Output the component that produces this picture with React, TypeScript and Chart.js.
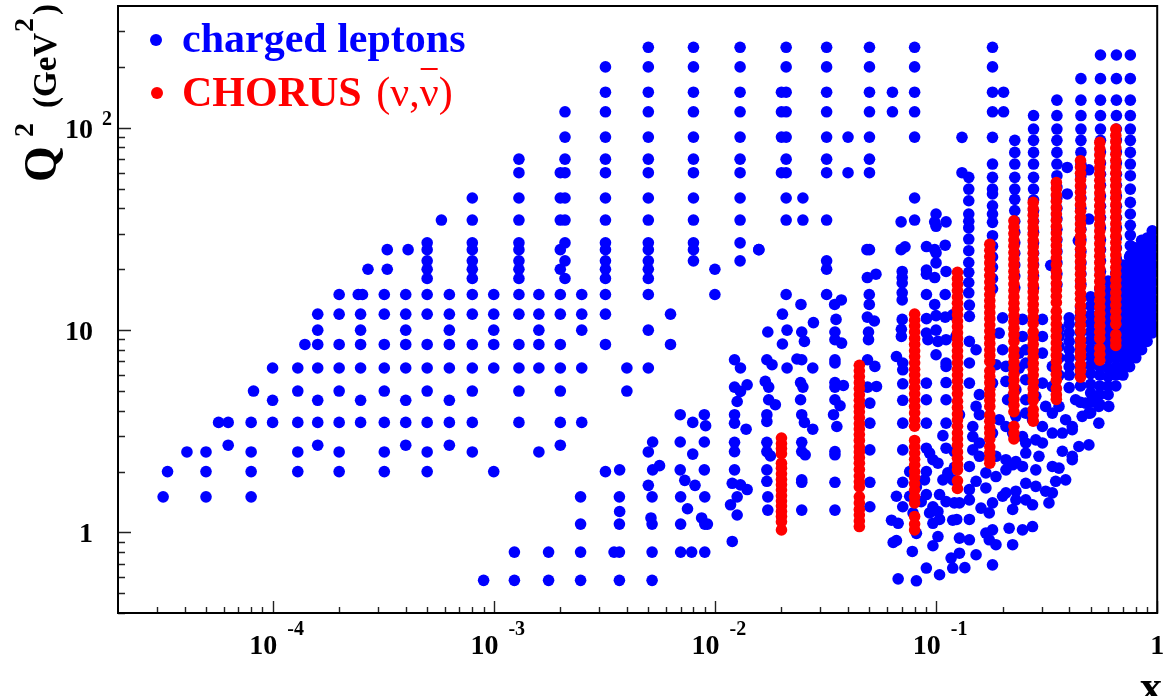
import { useEffect, useRef } from "react";
import { Chart, registerables } from "chart.js";

Chart.register(...registerables);

// ---------- axis ranges & tick labels ----------
const X_MIN = 2e-5;
const X_MAX = 1;
const Y_MIN = 0.4;
const Y_MAX = 400;
const xTickValues = [1e-4, 1e-3, 1e-2, 1e-1, 1];
const xTickBase = ["10", "10", "10", "10", "1"];
const xTickSup = ["-4", "-3", "-2", "-1", ""];
const yTickValues = [1, 10, 100];
const yTickBase = ["1", "10", "10"];
const yTickSup = ["", "", "2"];
const seriesNames = ["charged leptons", "CHORUS"];

// ---------- charged leptons: rows of constant Q2 (low-x grid) ----------
const blueRowQ2 = [250, 200, 150, 120, 90, 70, 60, 45, 35, 27, 25, 22, 20, 18, 15, 12, 10, 8.5, 6.5, 5, 4.5, 3.5, 2.7, 2.5, 2, 1.5, 1.1, 0.8, 0.58];
const blueRowX = [
  [5e-3, 8e-3, 1.3e-2, 2.1e-2, 3.2e-2, 5e-2, 8e-2],
  [3.2e-3, 5e-3, 8e-3, 1.3e-2, 2.1e-2, 3.2e-2, 5e-2, 8e-2],
  [3.2e-3, 5e-3, 8e-3, 1.3e-2, 2.0e-2, 2.1e-2, 3.2e-2, 5e-2, 6.35e-2, 8e-2],
  [2.1e-3, 3.2e-3, 5e-3, 8e-3, 1.3e-2, 2.0e-2, 2.1e-2, 3.2e-2, 5e-2, 6.35e-2, 8e-2],
  [2.1e-3, 3.2e-3, 5e-3, 8e-3, 1.3e-2, 2.0e-2, 2.1e-2, 3.2e-2, 4e-2, 5e-2, 8e-2],
  [1.3e-3, 2.1e-3, 3.2e-3, 5e-3, 8e-3, 1.3e-2, 2.1e-2, 3.2e-2, 5e-2],
  [1.3e-3, 2.0e-3, 2.1e-3, 3.2e-3, 5e-3, 8e-3, 1.3e-2, 2.0e-2, 2.1e-2, 3.2e-2, 4e-2, 5e-2],
  [8e-4, 1.3e-3, 2.0e-3, 2.1e-3, 3.2e-3, 5e-3, 8e-3, 1.3e-2, 2.1e-2, 2.5e-2, 8e-2],
  [5.8e-4, 8e-4, 1.3e-3, 2.0e-3, 2.1e-3, 3.2e-3, 5e-3, 8e-3, 1.3e-2, 2.1e-2, 2.5e-2, 3.2e-2, 8e-2],
  [5e-4, 8e-4, 1.3e-3, 2.1e-3, 3.2e-3, 5e-3, 8e-3, 1.3e-2],
  [3.3e-4, 4.1e-4, 5e-4, 8e-4, 1.3e-3, 2.0e-3, 3.2e-3, 5e-3, 8e-3, 1.58e-2],
  [5e-4, 8e-4, 1.3e-3, 2.1e-3, 3.2e-3, 5e-3, 8e-3, 1.3e-2, 3.2e-2],
  [2.7e-4, 3.3e-4, 5e-4, 8e-4, 1.3e-3, 2.0e-3, 3.2e-3, 5e-3, 1e-2, 3.2e-2],
  [5e-4, 8e-4, 1.3e-3, 2.1e-3, 3.2e-3, 5e-3],
  [2.0e-4, 2.44e-4, 2.55e-4, 3.2e-4, 4e-4, 5e-4, 6.3e-4, 8e-4, 1e-3, 1.3e-3, 1.6e-3, 2.0e-3, 2.5e-3, 3.2e-3, 5e-3, 1e-2, 2.1e-2, 3.2e-2],
  [1.6e-4, 2.0e-4, 2.5e-4, 3.2e-4, 4e-4, 5e-4, 6.3e-4, 8e-4, 1e-3, 1.3e-3, 1.6e-3, 2.0e-3, 2.5e-3, 3.2e-3, 6.3e-3],
  [1.6e-4, 2.5e-4, 4e-4, 6.3e-4, 1e-3, 1.6e-3, 2.5e-3, 5e-3],
  [1.4e-4, 1.6e-4, 2.0e-4, 2.5e-4, 3.2e-4, 4e-4, 5e-4, 6.3e-4, 8e-4, 1e-3, 1.3e-3, 1.6e-3, 2.0e-3, 3.2e-3, 6.3e-3],
  [1e-4, 1.3e-4, 1.6e-4, 2.0e-4, 2.5e-4, 3.2e-4, 4e-4, 5e-4, 6.3e-4, 8e-4, 1e-3, 1.3e-3, 1.6e-3, 2.0e-3, 2.5e-3, 4e-3, 5e-3],
  [8.2e-5, 1.3e-4, 2.0e-4, 3.2e-4, 5e-4, 8e-4, 1.3e-3, 2.0e-3, 4e-3],
  [1e-4, 1.6e-4, 2.5e-4, 4e-4, 6.3e-4],
  [5.7e-5, 6.3e-5, 8e-5, 1e-4, 1.3e-4, 1.6e-4, 2.0e-4, 2.5e-4, 3.2e-4, 4e-4, 5e-4, 6.3e-4, 8e-4, 1.3e-3, 2.0e-3, 2.5e-3],
  [6.3e-5, 1.6e-4, 4e-4, 6.3e-4, 2.0e-3],
  [4.1e-5, 5e-5, 8e-5, 1.3e-4, 2.0e-4, 3.2e-4, 5e-4, 8e-4, 1.6e-3],
  [3.35e-5, 5e-5, 8e-5, 1.3e-4, 2.0e-4, 3.2e-4, 5e-4, 1e-3, 3.2e-3],
  [3.2e-5, 5e-5, 8e-5, 2.47e-3, 3.7e-3, 5.2e-3, 7.0e-3, 9.0e-3],
  [2.47e-3, 3.7e-3, 5.2e-3, 7.0e-3, 9.0e-3, 9.25e-3],
  [1.24e-3, 1.77e-3, 2.47e-3, 3.5e-3, 3.7e-3, 5.2e-3, 7.0e-3, 7.85e-3, 9.0e-3],
  [9e-4, 1.24e-3, 1.77e-3, 2.47e-3, 3.7e-3, 5.2e-3],
];

// ---------- charged leptons: columns of constant x (high-x) ----------
const blueColX = [0.131, 0.1406, 0.18, 0.202, 0.227, 0.276, 0.352, 0.392, 0.452, 0.491, 0.554, 0.654, 0.756];
const blueColQ2 = [
  [89.7, 60],
  [56.9, 49.8, 43.6, 37.5, 34.5, 32, 28.2, 24.7, 21.6, 19.3, 17.2, 15.3],
  [250, 200, 150, 120, 89.7, 66.2, 56.9, 49.8, 47.1, 41.2, 37.5, 34.1, 29.3, 26, 23, 20.5, 18, 16],
  [150, 120],
  [86.7, 75.6, 66.2, 56.9, 49.8, 44.3, 39, 34.5, 30.5, 27, 24, 21, 18.5, 16.2],
  [115, 98.6, 86.7, 75.6, 66.2, 56.9, 49.8, 44, 39, 34.5, 30.5, 27, 24, 21, 18.5, 16.2],
  [137, 115, 98.6, 86.7, 75.6, 66.2, 58, 51, 45, 40, 35.5, 31.5, 28, 24.5, 21.5, 19, 16.8],
  [63.7, 47.1],
  [175, 137, 115, 98.6, 86.7, 75.6, 66, 58, 51, 45, 40, 35.5, 31.5, 28, 24.5, 21.5, 19, 16.8],
  [62, 35.4],
  [229, 175, 137, 115, 98.6, 86.7, 76, 67, 59, 52, 46, 41, 36, 32, 28, 25, 22, 19.5, 17.5],
  [229, 175, 137, 115, 98.6, 87, 76, 67, 59, 52, 46, 41, 36, 32, 28.5, 25.5, 22.5],
  [229, 175, 137, 115, 98.6, 86.7, 75.6, 66.2, 58, 49.8, 42.8, 37.5, 33, 29.5, 26.2, 23.5],
];

// ---------- charged leptons: dense high-x band ----------
const blueBandX = [0.36, 0.4, 0.45, 0.5, 0.55, 0.6, 0.65, 0.7, 0.75, 0.8, 0.85, 0.9, 0.95];
const blueBandQ2 = [
  [6, 7.3, 8.3, 9.3, 10.2],
  [5.2, 6, 6.6, 7.3, 8, 8.8, 9.7, 10.7, 11.5],
  [4.4, 5.3, 6, 6.6, 7.3, 8, 8.8, 9.7, 10.7, 11.8, 13],
  [3.9, 4.4, 4.9, 5.4, 6.1, 6.7, 7.4, 8.1, 8.9, 9.8, 10.8, 11.9, 13.2, 14.6],
  [4.3, 4.8, 5.3, 6, 6.6, 7.3, 8, 8.8, 9.7, 10.7, 11.8, 13, 14.4, 16],
  [4.8, 5.3, 5.9, 6.5, 7.2, 7.9, 8.7, 9.6, 10.6, 11.7, 12.9, 14.2, 15.7, 17.5],
  [5.3, 6, 6.6, 7.3, 8, 8.8, 9.7, 10.7, 11.8, 13, 14.3, 15.8, 17.4, 19.2],
  [6, 6.6, 7.3, 8, 8.8, 9.7, 10.7, 11.8, 13, 14.3, 15.8, 17.4, 19.2, 21],
  [6.6, 7.2, 7.9, 8.7, 9.6, 10.6, 11.7, 12.9, 14.2, 15.7, 17.3, 19.1, 21, 23],
  [7.3, 8, 8.8, 9.7, 10.7, 11.8, 13, 14.3, 15.8, 17.4, 19.2, 21.2, 23.5, 25.5],
  [8, 8.7, 9.6, 10.6, 11.7, 12.9, 14.2, 15.7, 17.3, 19.1, 21, 23.2, 25.6, 27.8],
  [8.8, 9.7, 10.7, 11.8, 13, 14.3, 15.8, 17.4, 19.2, 21.2, 23.4, 25.8, 28.5],
  [9.7, 10.6, 11.7, 12.9, 14.2, 15.7, 17.3, 19.1, 21, 23.2, 25.6, 28.2, 31],
];

// ---------- charged leptons: scattered points [x, Q2] ----------
const blueScatterLow = [
  [6.97e-3, 3.82], [7.94e-3, 3.5], [8.96e-3, 3.82], [9.08e-3, 3.37], [5.23e-3, 2.8], [6.97e-3, 2.8], [8.96e-3, 2.8],
  [5.0e-3, 2.5], [7.94e-3, 2.44], [3.71e-3, 2.04], [5.23e-3, 2.04], [5.62e-3, 2.14], [6.97e-3, 2.04], [8.96e-3, 2.04],
  [5.0e-3, 1.71], [7.31e-3, 1.81], [8.13e-3, 1.71], [3.71e-3, 1.27], [7.52e-3, 1.31], [5.14e-3, 1.18], [8.71e-3, 1.18],
];
const blueScatterMid = [
  [0.0695, 34.3], [0.1, 37.5], [0.0986, 34.3], [0.111, 34.3], [0.1, 32.6], [0.0158, 25], [0.0487, 25], [0.05, 25],
  [0.0695, 25], [0.0724, 25.8], [0.0905, 25.9], [0.0986, 25], [0.11, 26.3], [0.1, 24.1], [0.1, 21.5], [0.0489, 18.2],
  [0.0535, 18.9], [0.0703, 19.5], [0.0703, 18.2], [0.0703, 17.1], [0.0905, 19.8], [0.0905, 18.9], [0.0986, 18.2],
  [0.111, 19.5], [0.0245, 13.4], [0.0348, 13.4], [0.0373, 14.1], [0.0499, 15], [0.0499, 13.4], [0.0703, 15.3],
  [0.0703, 14.1], [0.0905, 15], [0.11, 15], [0.0986, 13.4], [0.0202, 12], [0.0279, 10.9], [0.0353, 11.3], [0.0489, 11.6],
  [0.0526, 11.1], [0.0703, 11.3], [0.0905, 11.4], [0.1, 11.8], [0.11, 11.6], [0.119, 11.9],
  [0.01227, 7.14], [0.01305, 6.5], [0.01718, 7.14], [0.01813, 6.75], [0.0212, 6.5], [0.0235, 7.2], [0.0247, 7.14],
  [0.0277, 6.5], [0.0349, 7.14], [0.0349, 6.88], [0.049, 7.14], [0.0529, 6.62], [0.0662, 7.41], [0.0707, 6.88],
  [0.0707, 6.37], [0.1, 7.56], [0.111, 6.88], [0.111, 6.62],
  [0.01735, 9.79], [0.0212, 10], [0.0247, 9.79], [0.0254, 8.8], [0.0349, 9.79], [0.0349, 8.97], [0.0374, 8.63],
  [0.0495, 9.79], [0.0495, 8.97], [0.0697, 10.1], [0.0697, 9.31], [0.0904, 9.68], [0.0919, 8.97], [0.1, 10],
  [0.102, 8.8], [0.111, 8.97], [0.123, 9.31], [0.0202, 8.54],
  [0.01227, 5.23], [0.01305, 4.98], [0.01399, 5.37], [0.0169, 5.58], [0.01751, 5.23], [0.0244, 5.51], [0.025, 5.23],
  [0.0349, 5.51], [0.0349, 5.23], [0.0381, 5.33], [0.049, 5.23], [0.0538, 5.27], [0.0707, 5.43], [0.0904, 5.47], [0.111, 5.51],
  [0.01261, 4.44], [0.01751, 4.53], [0.01876, 4.28], [0.0244, 4.53], [0.0349, 4.53], [0.0368, 4.23], [0.0502, 4.36],
  [0.0707, 4.5], [0.0904, 4.53], [0.111, 4.53],
  [0.01227, 3.82], [0.01227, 3.47], [0.01384, 3.24], [0.01718, 3.82], [0.01718, 3.54], [0.0247, 3.82], [0.0254, 3.5],
  [0.0277, 3.24], [0.0344, 3.82], [0.0356, 3.34], [0.0502, 3.47], [0.0707, 3.47], [0.0904, 3.47], [0.111, 3.47], [0.1074, 3.01],
  [0.01227, 2.79], [0.01227, 2.51], [0.01718, 2.79], [0.01718, 2.51], [0.01782, 2.39], [0.0247, 2.79], [0.0247, 2.51],
  [0.0256, 2.42], [0.0349, 2.51], [0.0349, 2.42], [0.0502, 2.56], [0.0707, 2.56], [0.0904, 2.61], [0.0968, 2.29],
  [0.111, 2.61], [0.121, 2.51], [0.0935, 2.47],
  [0.01227, 2.04], [0.01198, 1.75], [0.01305, 1.72], [0.01399, 1.63], [0.01718, 2.04], [0.01718, 1.79], [0.0247, 1.82],
  [0.0247, 1.77], [0.0349, 1.77], [0.0502, 1.77], [0.0707, 1.77], [0.076, 2], [0.0904, 2], [0.102, 2.2], [0.1074, 1.82],
  [0.119, 1.82], [0.0887, 1.82], [0.113, 1.97], [0.121, 2.1], [0.0815, 1.68],
  [0.01261, 1.5], [0.01177, 1.37], [0.01261, 1.22], [0.01735, 1.5], [0.01735, 1.29], [0.0247, 1.29], [0.0349, 1.29],
  [0.0502, 1.34], [0.0662, 1.51], [0.0707, 1.34], [0.0787, 1.25], [0.0904, 1.54], [0.0968, 1.34], [0.102, 1.27],
  [0.111, 1.42], [0.121, 1.4], [0.1037, 1.54], [0.0935, 1.25], [0.076, 1.51], [0.0857, 1.42],
  [0.01198, 0.903], [0.0629, 1.15], [0.0674, 1.11], [0.064, 0.893], [0.0662, 0.913], [0.0815, 0.99], [0.0968, 1.11],
  [0.1037, 1.16], [0.119, 1.15], [0.102, 0.955], [0.0968, 0.86], [0.0781, 0.806], [0.0904, 0.667], [0.1037, 0.618],
  [0.0674, 0.59], [0.0815, 0.577], [0.117, 0.747], [0.119, 0.667],
];
const blueScatterHigh = [
  [0.1415, 13.3], [0.1415, 11.7], [0.2, 11.5], [0.246, 11.3], [0.3027, 11.3], [0.1415, 8.8], [0.193, 9.67], [0.246, 9.31],
  [0.3027, 9.31], [0.1517, 8], [0.2, 8], [0.2376, 7.7], [0.2545, 8], [0.3027, 7.7], [0.1415, 6.88], [0.1866, 6.75],
  [0.207, 6.62], [0.2376, 6.49], [0.2545, 6.88], [0.3357, 6.62], [0.1415, 5.47], [0.18, 5.47], [0.207, 5.58], [0.2296, 5.08],
  [0.2545, 5.69], [0.3027, 5.47], [0.3357, 5.27],
  [0.1517, 4.2], [0.157, 4.8], [0.2106, 4.53], [0.222, 4.71], [0.2545, 4.53], [0.2825, 4.71], [0.313, 4.2], [0.3597, 4.2],
  [0.4276, 4.53], [0.474, 4.36], [0.508, 4.53], [0.5445, 4.2], [0.604, 4.2],
  [0.1276, 3.82], [0.1466, 3.34], [0.157, 3.82], [0.193, 3.61], [0.207, 3.34], [0.2296, 3.75], [0.2545, 3.89], [0.273, 3.61],
  [0.3027, 3.34], [0.3357, 3.89], [0.3855, 3.61], [0.413, 3.34], [0.458, 3.75], [0.491, 3.89], [0.5445, 3.47],
  [0.1466, 2.98], [0.157, 2.77], [0.18, 3.1], [0.222, 3.1], [0.246, 2.98], [0.2545, 2.77], [0.2825, 2.87], [0.3027, 2.77],
  [0.3357, 3.1], [0.3725, 3.1], [0.413, 3.22], [0.4426, 2.66], [0.491, 2.71],
  [0.1466, 2.56], [0.157, 2.38], [0.1866, 2.38], [0.207, 2.29], [0.2296, 2.24], [0.2545, 2.47], [0.292, 2.38], [0.3725, 2.52], [0.413, 2.38],
  [0.1415, 2.12], [0.168, 1.97], [0.1866, 1.89], [0.207, 2.04], [0.222, 2.16], [0.246, 2.12], [0.2825, 2.04], [0.3357, 2.12],
  [0.3597, 2.08], [0.3855, 1.82], [0.413, 2.29],
  [0.1517, 1.79], [0.1415, 1.63], [0.168, 1.66], [0.207, 1.57], [0.2296, 1.6], [0.2545, 1.75], [0.2825, 1.69], [0.313, 1.6],
  [0.3475, 1.79], [0.3357, 1.57],
  [0.1276, 1.4], [0.1415, 1.45], [0.1597, 1.32], [0.18, 1.4], [0.2, 1.51], [0.2296, 1.45], [0.2545, 1.45], [0.273, 1.37], [0.324, 1.4],
  [0.124, 1.16], [0.1415, 1.16], [0.174, 1.25], [0.18, 1.03], [0.222, 1.3], [0.214, 1.05], [0.246, 1.03], [0.273, 1.07],
  [0.1276, 0.938], [0.1415, 0.92], [0.168, 0.993], [0.174, 0.92], [0.1866, 0.87], [0.222, 0.87], [0.1517, 0.776],
  [0.1276, 0.79], [0.135, 0.67], [0.18, 0.692], [0.33, 20.9], [0.44, 27.7],
];

// ---------- CHORUS (nu, nubar): columns of constant x ----------
const redColX = [0.02, 0.045, 0.08, 0.125, 0.175, 0.225, 0.275, 0.35, 0.45, 0.55, 0.65];
const redColQ2 = [
  [2.93, 2.75, 2.6, 2.45, 2.2, 2.08, 1.95, 1.83, 1.72, 1.62, 1.52, 1.43, 1.35, 1.27, 1.2, 1.13, 1.03],
  [6.7, 6.3, 5.9, 5.5, 5.15, 4.8, 4.5, 4.2, 3.95, 3.7, 3.45, 3.25, 3.05, 2.85, 2.65, 2.5, 2.35, 2.2, 2.05, 1.9, 1.78, 1.68, 1.5, 1.4, 1.3, 1.22, 1.14, 1.07],
  [12, 11.2, 10.5, 9.8, 9.1, 8.5, 7.9, 7.4, 6.9, 6.4, 6.0, 5.6, 5.2, 4.85, 4.5, 4.2, 3.9, 3.6, 3.35, 2.85, 2.65, 2.47, 2.3, 2.15, 2.0, 1.87, 1.74, 1.62, 1.5, 1.4, 1.2, 1.1, 1.03],
  [19.3, 18, 16.8, 15.7, 14.6, 13.6, 12.7, 11.9, 11.1, 10.4, 9.7, 9.1, 8.5, 7.9, 7.4, 6.9, 6.4, 6.0, 5.6, 5.2, 4.85, 4.45, 4.15, 3.85, 3.6, 3.35, 3.1, 2.9, 2.7, 2.5, 2.33, 2.17, 2.04, 1.8, 1.65],
  [26.6, 24.8, 23.1, 21.5, 20, 18.6, 17.3, 16.1, 15, 14, 13.1, 12.2, 11.4, 10.6, 9.9, 9.2, 8.6, 8, 7.5, 7, 6.3, 5.9, 5.5, 5.1, 4.8, 4.5, 4.2, 3.8, 3.55, 3.3, 3.1, 2.9, 2.65, 2.48, 2.32, 2.2],
  [34.7, 32.3, 30, 27.9, 26, 24.2, 22.5, 21, 19.5, 18.2, 16.9, 15.7, 14.6, 13.6, 12.7, 11.8, 11, 10.2, 9.5, 8.8, 8.0, 7.45, 6.95, 6.5, 6.05, 5.65, 5.25, 4.9, 4.55, 4.25, 3.95, 3.35, 3.1, 2.9],
  [42.8, 39.8, 37, 34.4, 32, 29.8, 27.7, 25.8, 24, 22.3, 20.8, 19.3, 18, 16.7, 15.5, 14.4, 13.4, 12.5, 11.6, 10.8, 9.8, 9.1, 8.5, 7.9, 7.35, 6.85, 6.4, 6.0, 5.55, 5.15, 4.8, 4.5, 4.05, 3.8, 3.55],
  [53.7, 50, 46.5, 43.3, 40.3, 37.5, 34.9, 32.5, 30.2, 28.1, 26.2, 24.4, 22.7, 21.1, 19.6, 18.3, 17, 15.8, 14.7, 13.7, 12.4, 11.5, 10.7, 10, 9.3, 8.65, 8.05, 7.5, 7.0, 6.5, 6.05, 5.65, 5.15, 4.8, 4.55],
  [68.8, 64, 59.6, 55.4, 51.6, 48, 44.7, 41.6, 38.7, 36, 33.5, 31.2, 29, 27, 25.1, 23.4, 21.8, 20.3, 18.9, 17.6, 16.4, 15.2, 14.2, 13.2, 12.3, 11.4, 10.6, 9.9, 8.95, 8.35, 7.8, 7.4, 6.75, 6.3, 5.85],
  [84.7, 78.8, 73.3, 68.2, 63.5, 59.1, 55, 51.2, 47.6, 44.3, 41.2, 38.4, 35.7, 33.2, 30.9, 28.8, 26.8, 24.9, 23.2, 21.6, 20.1, 18.7, 17.4, 16.2, 15.1, 14, 13, 12.1, 11.3, 10.5, 9.75, 9.1, 8.15, 7.6, 7.1],
  [98.6, 91.7, 85.4, 79.5, 74, 68.9, 64.1, 59.7, 55.5, 51.7, 48.1, 44.8, 41.7, 38.8, 36.1, 33.6, 31.3, 29.1, 27.1, 25.2, 23.5, 21.9, 20.4, 19, 17.7, 16.5, 15.3, 14.3, 13.3, 12.4, 11.5, 10.7, 9.5, 8.9, 8.4],
];

const BLUE = "#0000ff";
const RED = "#ff0000";
const SERIF = '"Liberation Serif", "Times New Roman", "DejaVu Serif", serif';

function buildBlue() {
  const pts: { x: number; y: number }[] = [];
  blueRowQ2.forEach((q, i) => blueRowX[i].forEach((x) => pts.push({ x, y: q })));
  blueColX.forEach((x, i) => blueColQ2[i].forEach((q) => pts.push({ x, y: q })));
  blueBandX.forEach((x, i) => blueBandQ2[i].forEach((q) => pts.push({ x, y: q })));
  [...blueScatterLow, ...blueScatterMid, ...blueScatterHigh].forEach(([x, q]) => pts.push({ x, y: q }));
  return pts;
}

function buildRed() {
  const pts: { x: number; y: number }[] = [];
  redColX.forEach((x, i) => redColQ2[i].forEach((q) => pts.push({ x, y: q })));
  return pts;
}

const rootAxes = {
  id: "rootAxes",
  afterDraw(chart: any) {
    const { ctx, chartArea: a } = chart;
    const xs = chart.scales.x;
    const ys = chart.scales.y;
    ctx.save();

    // ticks
    ctx.strokeStyle = "#222";
    ctx.lineWidth = 1.4;
    ctx.beginPath();
    for (let e = -5; e <= 0; e++) {
      for (let m = 1; m <= 9; m++) {
        const v = m * Math.pow(10, e);
        if (v <= X_MIN * 1.0001 || v > X_MAX * 1.0001) continue;
        const px = Math.round(xs.getPixelForValue(v)) + 0.5;
        const len = m === 1 ? 12 : 6;
        ctx.moveTo(px, a.bottom);
        ctx.lineTo(px, a.bottom - len);
      }
    }
    for (let e = -1; e <= 2; e++) {
      for (let m = 1; m <= 9; m++) {
        const v = m * Math.pow(10, e);
        if (v < Y_MIN * 0.9999 || v >= Y_MAX * 0.9999) continue;
        const py = Math.round(ys.getPixelForValue(v)) + 0.5;
        const len = m === 1 ? 13 : 7;
        ctx.moveTo(a.left, py);
        ctx.lineTo(a.left + len, py);
      }
    }
    ctx.stroke();

    // frame
    ctx.strokeStyle = "#000";
    ctx.lineWidth = 2;
    ctx.strokeRect(a.left, a.top, a.right - a.left, a.bottom - a.top);

    // x tick labels
    ctx.fillStyle = "#000";
    ctx.textBaseline = "alphabetic";
    ctx.textAlign = "left";
    xTickValues.forEach((v, i) => {
      const px = xs.getPixelForValue(v);
      ctx.font = `bold 28px ${SERIF}`;
      const wb = ctx.measureText(xTickBase[i]).width;
      ctx.font = `bold 20px ${SERIF}`;
      const ws = xTickSup[i] ? ctx.measureText(xTickSup[i]).width : 0;
      const gap = xTickSup[i] ? 10 : 0;
      const total = wb + gap + ws;
      const x0 = xTickSup[i] ? px + 4 - total / 2 : px - 7;
      ctx.font = `bold 28px ${SERIF}`;
      ctx.fillText(xTickBase[i], x0, 654);
      if (xTickSup[i]) {
        ctx.font = `bold 20px ${SERIF}`;
        ctx.fillText(xTickSup[i], x0 + wb + gap, 635);
      }
    });

    // y tick labels
    yTickValues.forEach((v, i) => {
      const py = ys.getPixelForValue(v);
      ctx.font = `bold 28px ${SERIF}`;
      ctx.textAlign = "right";
      ctx.fillText(yTickBase[i], 93, py + 10);
      if (yTickSup[i]) {
        ctx.textAlign = "left";
        ctx.font = `bold 20px ${SERIF}`;
        ctx.fillText(yTickSup[i], 102, py - 3);
      }
    });

    // x axis title
    ctx.textAlign = "right";
    ctx.font = `bold 44px ${SERIF}`;
    ctx.fillText("x", 1162, 701);

    // y axis title (rotated)
    ctx.save();
    ctx.translate(56, 182);
    ctx.rotate(-Math.PI / 2);
    ctx.textAlign = "left";
    ctx.font = `bold 46px ${SERIF}`;
    ctx.fillText("Q", 0, 0);
    ctx.font = `bold 28px ${SERIF}`;
    ctx.fillText("2", 45, -23);
    ctx.font = `bold 33px ${SERIF}`;
    ctx.fillText("(GeV", 74, 0);
    ctx.font = `bold 28px ${SERIF}`;
    ctx.fillText("2", 150, -23);
    ctx.font = `bold 33px ${SERIF}`;
    ctx.fillText(")", 167, 0);
    ctx.restore();

    // legend
    ctx.textAlign = "left";
    ctx.fillStyle = BLUE;
    ctx.beginPath();
    ctx.arc(156, 40, 6, 0, Math.PI * 2);
    ctx.fill();
    ctx.font = `bold 42px ${SERIF}`;
    ctx.fillText(seriesNames[0], 182, 52);

    ctx.fillStyle = RED;
    ctx.beginPath();
    ctx.arc(157, 93, 6, 0, Math.PI * 2);
    ctx.fill();
    ctx.font = `bold 42px ${SERIF}`;
    ctx.fillText(seriesNames[1], 182, 106);
    const wC = ctx.measureText(seriesNames[1] + " ").width;
    ctx.font = `42px ${SERIF}`;
    const nuText = "(\u03bd,\u03bd)";
    const xNu = 182 + wC + 4;
    ctx.fillText(nuText, xNu, 106);
    const wPre = ctx.measureText("(\u03bd,").width;
    const wNu = ctx.measureText("\u03bd").width;
    ctx.fillRect(xNu + wPre + 1, 68, wNu - 2, 2);

    ctx.restore();
  },
};

export default function App() {
  const ref = useRef<HTMLCanvasElement>(null);
  useEffect(() => {
    const chart = new Chart(ref.current as HTMLCanvasElement, {
      type: "scatter",
      data: {
        datasets: [
          {
            label: seriesNames[1],
            data: buildRed(),
            backgroundColor: RED,
            borderWidth: 0,
            pointRadius: 5.8,
            order: 0,
          },
          {
            label: seriesNames[0],
            data: buildBlue(),
            backgroundColor: BLUE,
            borderWidth: 0,
            pointRadius: 5.8,
            order: 1,
          },
        ],
      },
      options: {
        animation: false,
        responsive: false,
        devicePixelRatio: 1,
        events: [],
        layout: { padding: { left: 118, right: 1, top: 6, bottom: 83 } },
        plugins: { legend: { display: false }, tooltip: { enabled: false } },
        scales: {
          x: { type: "logarithmic", min: X_MIN, max: X_MAX, display: false },
          y: { type: "logarithmic", min: Y_MIN, max: Y_MAX, display: false },
        },
      },
      plugins: [rootAxes],
    });
    return () => chart.destroy();
  }, []);
  return (
    <div style={{ position: "fixed", left: 0, top: 0, width: 1163, height: 696, background: "#fff" }}>
      <canvas ref={ref} width={1163} height={696} style={{ display: "block", width: 1163, height: 696 }} />
    </div>
  );
}
